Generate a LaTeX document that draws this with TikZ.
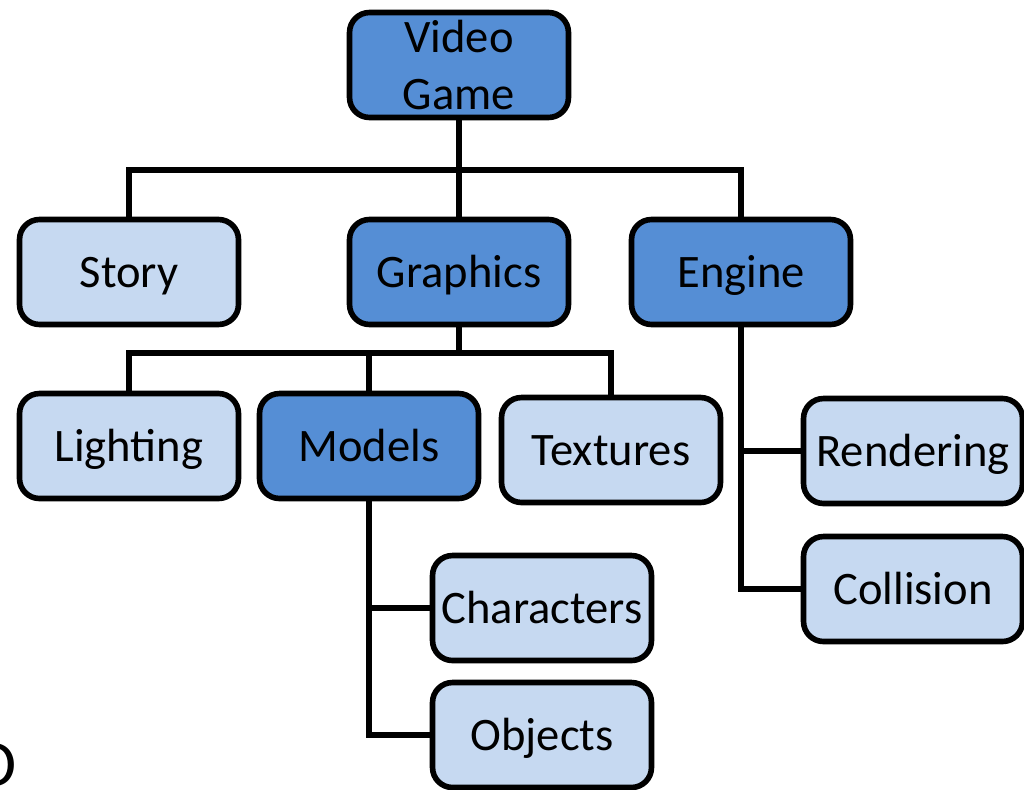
\documentclass[tikz,border=0pt]{standalone}
\usepackage{fontspec}
\setmainfont{Carlito}

\definecolor{deepblue}{RGB}{85,142,213}
\definecolor{paleblue}{RGB}{198,217,241}

\tikzstyle{box}=[draw, line width=3.2pt, rounded corners=0.4cm,
  minimum width=4.38cm, minimum height=2.1cm, inner sep=0pt,
  font=\fontsize{26.5}{32}\selectfont, text height=18pt, text depth=0pt]
\tikzstyle{topic}=[box, fill=deepblue]
\tikzstyle{leaf}=[box, fill=paleblue]
\tikzstyle{link}=[line width=3.2pt]

\begin{document}
\begin{tikzpicture}[x=0.02cm, y=-0.02cm]
\useasboundingbox (0,0) rectangle (1024,789);

% main item
\node[topic, align=center, text height=, text depth=] (game) at (459,65) {Video\\Game};

% first level
\node[leaf]  (story)    at (129,272) {Story};
\node[topic] (graphics) at (459,272) {Graphics};
\node[topic] (engine)   at (741,272) {Engine};

% graphics parts
\node[leaf]  (lighting) at (129,446) {Lighting};
\node[topic] (models)   at (369,446) {Models};
\node[leaf]  (textures) at (611,450) {Textures};

% engine parts
\node[leaf] (rendering) at (913,451) {Rendering};
\node[leaf] (collision) at (913,589) {Collision};

% model parts
\node[leaf] (characters) at (542,608) {Characters};
\node[leaf] (objects)    at (542,735) {Objects};

% connectors
\draw[link] (game.south) -- (graphics.north);
\draw[link] (story.north) |- (0,170 -| engine.north) -- (engine.north);

\draw[link] (graphics.south) -- (graphics.south |- 0,353);
\draw[link] (lighting.north) |- (0,353 -| textures.north) -- (textures.north);
\draw[link] (models.north) -- (models.north |- 0,353);

\draw[link] (engine.south) |- (collision.west);
\draw[link] (engine.south |- rendering.west) -- (rendering.west);

\draw[link] (models.south) |- (objects.west);
\draw[link] (models.south |- characters.west) -- (characters.west);

% cut-off letter at the lower left
\begin{scope}
\clip (0,0) rectangle (1024,789);
\node[anchor=base east, inner sep=0pt, font=\fontsize{38}{44}\selectfont] (stray) at (17,786) {D};
\end{scope}
\end{tikzpicture}
\end{document}
